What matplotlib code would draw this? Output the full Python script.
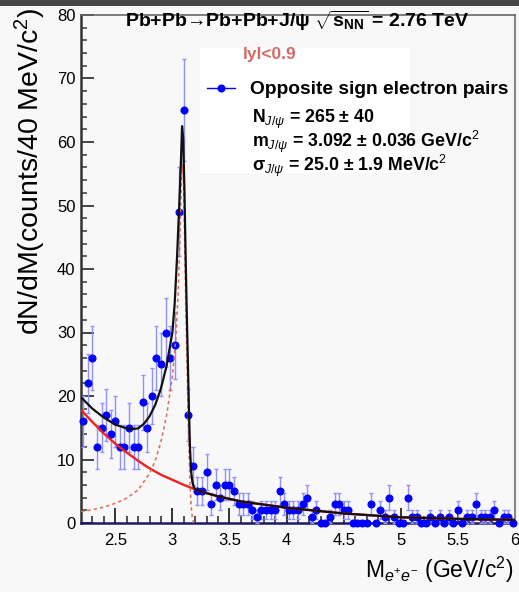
import numpy as np
import matplotlib
matplotlib.use("Agg")
import matplotlib.pyplot as plt
from matplotlib.lines import Line2D
from matplotlib.patches import Rectangle

plt.rcParams['font.family'] = ['Liberation Sans', 'DejaVu Sans']
plt.rcParams['mathtext.fontset'] = 'custom'
plt.rcParams['mathtext.rm'] = 'Liberation Sans'
plt.rcParams['mathtext.it'] = 'Liberation Sans:italic'
plt.rcParams['mathtext.bf'] = 'Liberation Sans:bold'

# ---------------- data ----------------
bin_lo, bin_width, n_bins = 2.2, 0.04, 95
mass = np.round(bin_lo + bin_width * (np.arange(n_bins) + 0.5), 3)
counts = [16, 22, 26, 12, 15, 17, 14, 16, 12, 12, 15, 12, 12, 19, 15, 20, 26, 25, 30, 26, 28,
          49, 65, 17, 9, 5, 5, 8, 3, 6, 4, 6, 6, 5, 3, 3, 3, 2, 1, 2, 2, 2, 2, 5, 3, 2, 2,
          2, 3, 4, 1, 2, 0, 0, 1, 3, 3, 2, 2, 0, 0, 0, 0, 3, 0, 2, 1, 4, 1, 0, 0, 4, 1, 1, 0,
          0, 1, 0, 1, 0, 1, 0, 2, 0, 1, 1, 3, 1, 1, 1, 2, 0, 1, 1, 0]

# fit curves
total_x = [2.20, 2.30, 2.40, 2.50, 2.60, 2.65, 2.70, 2.75, 2.80, 2.85, 2.90, 2.95, 3.00, 3.02,
           3.04, 3.06, 3.075, 3.085, 3.095, 3.105, 3.115, 3.125, 3.135, 3.145, 3.155, 3.165,
           3.175, 3.185, 3.20, 3.30, 3.40, 3.60, 3.80, 4.00, 4.50, 5.00, 5.50, 6.00]
total_y = [19.8, 18.0, 16.6, 15.5, 14.9, 14.8, 14.9, 15.6, 16.8, 18.6, 21.2, 24.8, 30.0, 34.5,
           41.5, 50.0, 57.0, 62.5, 60.5, 53.0, 43.0, 34.0, 26.0, 18.0, 11.5, 8.0,
           6.5, 5.8, 5.3, 4.7, 4.2, 3.4, 2.9, 2.4, 1.5, 0.9, 0.65, 0.5]
bkg_x = [2.2, 2.3, 2.4, 2.5, 2.6, 2.7, 2.8, 2.9, 3.0, 3.1, 3.2, 3.3, 3.4, 3.6, 3.8, 4.0, 4.5, 5.0, 5.5, 6.0]
bkg_y = [17.8, 15.9, 14.1, 12.5, 11.1, 9.8, 8.6, 7.6, 6.8, 6.0, 5.3, 4.7, 4.2, 3.4, 2.9, 2.4, 1.5, 0.9, 0.65, 0.5]
sig_x = [2.20, 2.30, 2.40, 2.50, 2.60, 2.70, 2.80, 2.85, 2.90, 2.95, 3.00, 3.03, 3.05, 3.065,
         3.075, 3.085, 3.095, 3.105, 3.115, 3.125, 3.135, 3.145, 3.155, 3.165, 3.175, 3.185, 3.20]
sig_y = [1.8, 2.1, 2.5, 3.1, 3.9, 5.2, 7.8, 9.8, 12.8, 17.0, 23.0, 29.0, 36.0, 44.0,
         51.0, 56.5, 55.0, 47.0, 37.0, 28.0, 20.0, 12.0, 6.0, 2.5, 0.8, 0.1, 0.0]

x_ticks = [2.5, 3, 3.5, 4, 4.5, 5, 5.5, 6]
x_ticklabels = ['2.5', '3', '3.5', '4', '4.5', '5', '5.5', '6']
y_ticks = [0, 10, 20, 30, 40, 50, 60, 70, 80]
fit_lines = [r'N$_{J/\psi}$ = 265 ± 40',
             r'm$_{J/\psi}$ = 3.092 ± 0.036 GeV/c$^{2}$',
             r'σ$_{J/\psi}$ = 25.0 ± 1.9 MeV/c$^{2}$']

# ---------------- figure ----------------
W, H = 519, 592
bg = '#f8f8f8'
fig = plt.figure(figsize=(W / 100, H / 100), dpi=100, facecolor=bg)

def fx(px):
    return px / W

def fy(py):
    return 1 - py / H

L, R, T, B = 81, 515, 15, 523
ax = fig.add_axes([fx(L), fy(B), (R - L) / W, (B - T) / H])
ax.set_facecolor(bg)
ax.set_xlim(2.2, 6.0)
ax.set_ylim(0, 80)

counts_arr = np.array(counts, dtype=float)
ax.errorbar(mass, counts_arr, yerr=np.sqrt(counts_arr), fmt='o', color='#0000ff',
            ms=4.8, mec='#0000ff', ecolor='#9090ff', elinewidth=1.0, capsize=1.6,
            capthick=1.0, zorder=3, clip_on=False)

ax.plot(bkg_x, bkg_y, color='#ee2020', lw=1.7, zorder=4)
ax.plot(sig_x, sig_y, color='#e06a5a', lw=1.1, ls=(0, (2.2, 2.0)), zorder=4)
ax.plot(total_x, total_y, color='#111111', lw=1.6, zorder=5)

# legend background box
ax.add_patch(Rectangle((fx(200), fy(173)), fx(410) - fx(200), fy(48) - fy(173),
                       transform=fig.transFigure, facecolor='white', edgecolor='none', zorder=1))

# axes styling
ax.set_xticks(x_ticks)
ax.set_xticklabels(x_ticklabels)
ax.set_yticks(y_ticks)
ax.set_xticks(np.round(np.arange(2.3, 6.0, 0.1), 2), minor=True)
ax.set_yticks(np.arange(0, 81, 2), minor=True)
ax.tick_params(axis='x', which='major', direction='in', length=11, width=1.4, color='#333333',
               labelsize=12, pad=7, top=False)
ax.tick_params(axis='x', which='minor', direction='in', length=5, width=1.2, color='#333333', top=False)
ax.tick_params(axis='y', which='major', direction='in', length=9, width=1.4, color='#444444',
               labelsize=12, pad=4, right=False)
ax.tick_params(axis='y', which='minor', direction='in', length=4.5, width=1.2, color='#444444', right=False)

ax.spines['left'].set_color('#333333')
ax.spines['left'].set_linewidth(1.8)
ax.spines['bottom'].set_color('#1a1a66')
ax.spines['bottom'].set_linewidth(1.8)
ax.spines['top'].set_color('#666666')
ax.spines['top'].set_linewidth(1.2)
ax.spines['right'].set_color('#888888')
ax.spines['right'].set_linewidth(1.5)

# texts
fig.text(fx(297), fy(21), r'Pb+Pb→Pb+Pb+J/ψ $\sqrt{\mathbf{s}_{\mathbf{NN}}}$ = 2.76 TeV',
         ha='center', va='center', fontsize=14, fontweight='bold')
fig.text(fx(243), fy(54), 'lyl<0.9', ha='left', va='center', fontsize=12.5,
         fontweight='bold', color='#d46a64')

fig.add_artist(Line2D([fx(207), fx(235)], [fy(88), fy(88)], transform=fig.transFigure,
                      color='#0000ff', lw=1.0))
fig.add_artist(Line2D([fx(221)], [fy(88)], transform=fig.transFigure, marker='o',
                      color='#0000ff', ms=4.8, lw=0))
fig.text(fx(250), fy(89), 'Opposite sign electron pairs', ha='left', va='center',
         fontsize=13.8, fontweight='bold')
fig.text(fx(252), fy(108), '\n'.join(fit_lines), ha='left', va='top',
         fontsize=12.8, fontweight='bold', linespacing=0.86)

fig.text(fx(30), fy(7), r'dN/dM(counts/40 MeV/c$^{2}$)', rotation=90, ha='center', va='top',
         fontsize=20.5)
fig.text(fx(514), fy(570), r'M$_{e^{+}e^{-}}$ (GeV/c$^{2}$)', ha='right', va='center',
         fontsize=16.5)

# screenshot frame
fig.patches.append(Rectangle((0, fy(6)), 1, 6 / H, transform=fig.transFigure,
                             facecolor='#474747', edgecolor='none'))

fig.savefig('out.png', dpi=100, facecolor=bg)
